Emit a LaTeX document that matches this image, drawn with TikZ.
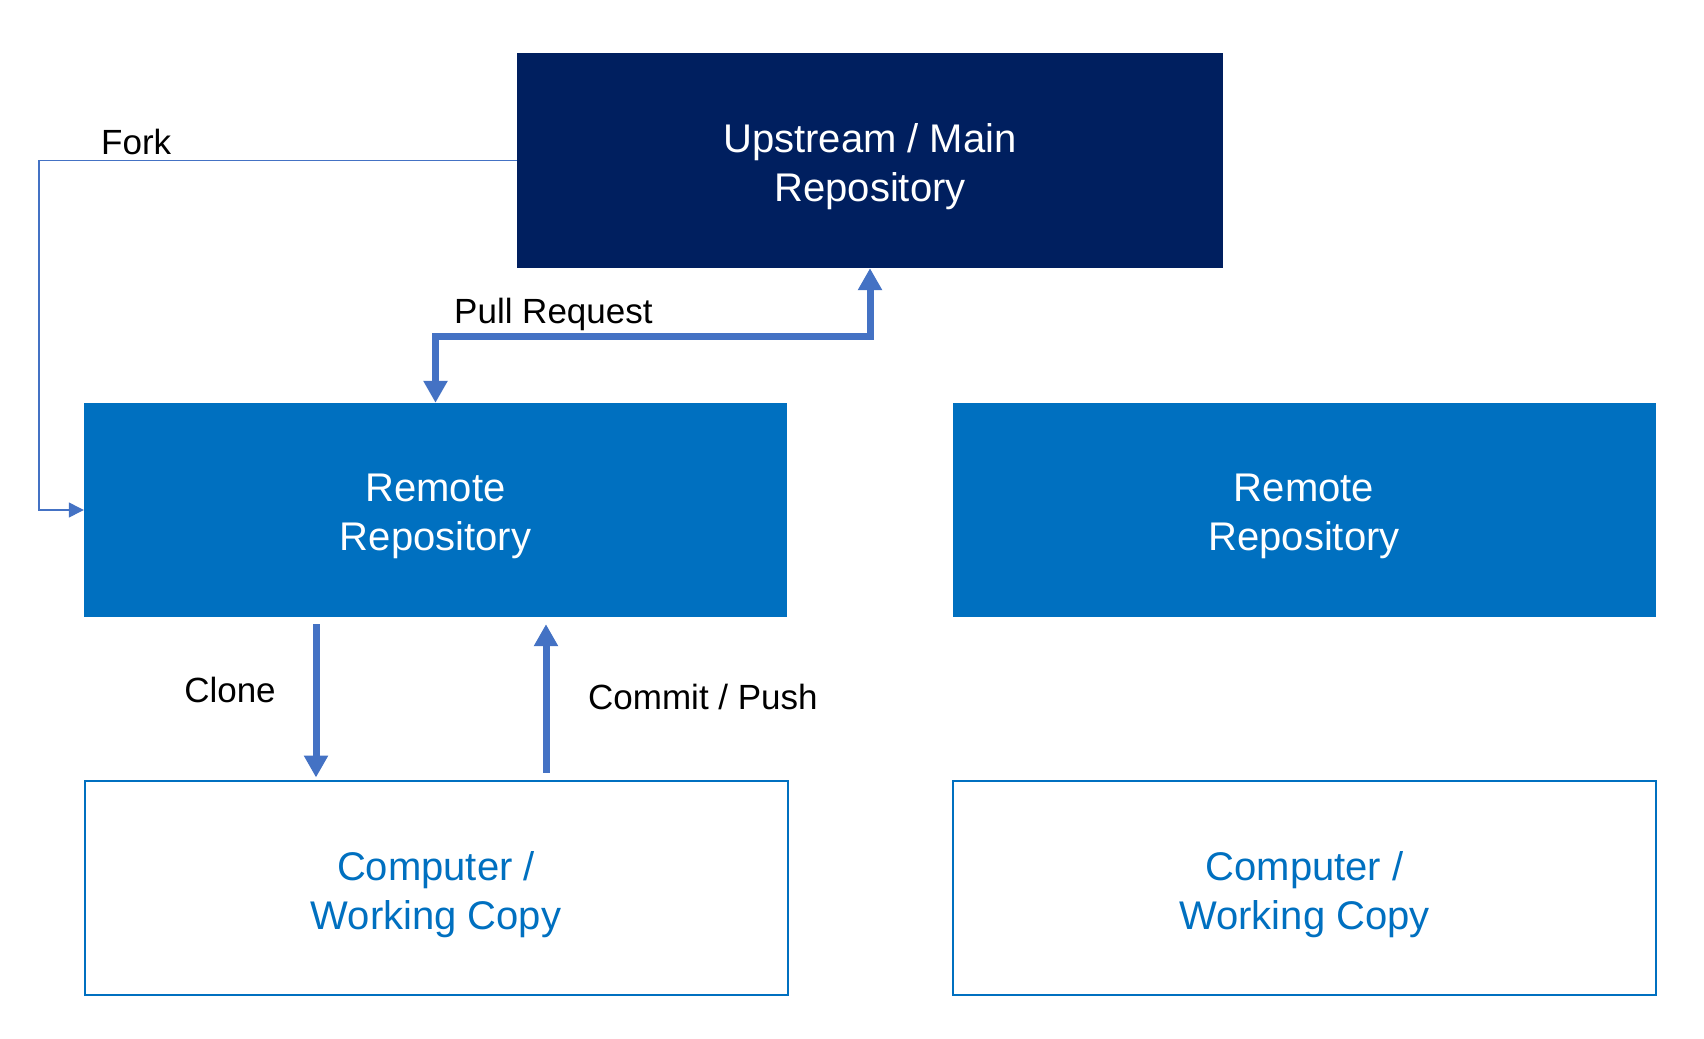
\documentclass[tikz,border=0pt]{standalone}
\usepackage{fontspec}
\setmainfont{Liberation Sans}
\usetikzlibrary{arrows.meta}
\definecolor{navy}{HTML}{001F5F}
\definecolor{rblue}{HTML}{0070C0}
\definecolor{ablue}{HTML}{4472C4}
\begin{document}
\begin{tikzpicture}[x=1pt,y=-1pt,
  boxtext/.style={font=\fontsize{40}{49}\selectfont, align=center, inner sep=0pt},
  upbox/.style={fill=navy, minimum width=706pt, minimum height=215pt, inner sep=0pt},
  rembox/.style={fill=rblue, minimum width=703pt, minimum height=214pt, inner sep=0pt},
  compbox/.style={draw=rblue, line width=2pt, fill=white, minimum width=703pt, minimum height=214pt, inner sep=0pt},
  whitetext/.style={boxtext, text=white},
  bluetext/.style={boxtext, text=rblue},
  bigarrow/.style={draw=ablue, line width=7pt, -{Triangle[length=22pt,width=23pt]}},
  bigboth/.style={draw=ablue, line width=7pt, {Triangle[length=22pt,width=23pt]}-{Triangle[length=22pt,width=23pt]}},
  thinarrow/.style={draw=ablue, line width=1.3pt, -{Triangle[length=15pt,width=15pt]}},
  lbl/.style={font=\fontsize{35}{41}\selectfont, text=black, inner sep=0pt}
]
\useasboundingbox (0,0) rectangle (1704,1038);
\fill[white] (0,0) rectangle (1704,1038);

\node[upbox] (up) at (870,160.5) {};
\node[whitetext] (uptext) at ([yshift=-6pt]up.center) {Upstream / Main\\Repository};
\node[rembox] (rl) at (435.5,510) {};
\node[whitetext] (rltext) at ([yshift=-6pt]rl.center) {Remote\\Repository};
\node[rembox] (rr) at (1304,510) {};
\node[whitetext] (rrtext) at ([yshift=-6pt]rr.center) {Remote\\Repository};
\node[compbox] (cl) at (436,887.5) {};
\node[bluetext] (cltext) at ([yshift=-7pt]cl.center) {Computer /\\Working Copy};
\node[compbox] (cr) at (1304.5,887.5) {};
\node[bluetext] (crtext) at ([yshift=-7pt]cr.center) {Computer /\\Working Copy};

% Fork
\coordinate (fk) at (39,0);
\draw[thinarrow] (up.west) -- (up.west -| fk) |- (rl.west);
\node[lbl, anchor=base west] (forklbl) at (101,154) {Fork};

% Pull request
\coordinate (pr) at (0,336);
\draw[bigboth] (up.south) -- (up.south |- pr) -| (rl.north);
\node[lbl, anchor=base west] (prlbl) at (454,323) {Pull Request};

% Clone
\draw[bigarrow] ([xshift=-119.5pt,yshift=-7pt]rl.south) -- ([xshift=-120pt,yshift=2pt]cl.north);
\node[lbl, anchor=base] (clonelbl) at (230,702) {Clone};

% Commit / Push
\draw[bigarrow] ([xshift=110pt,yshift=7pt]cl.north) -- ([xshift=110.5pt,yshift=-7pt]rl.south);
\node[lbl, anchor=base west] (cplbl) at (588,709) {Commit / Push};
\end{tikzpicture}
\end{document}
